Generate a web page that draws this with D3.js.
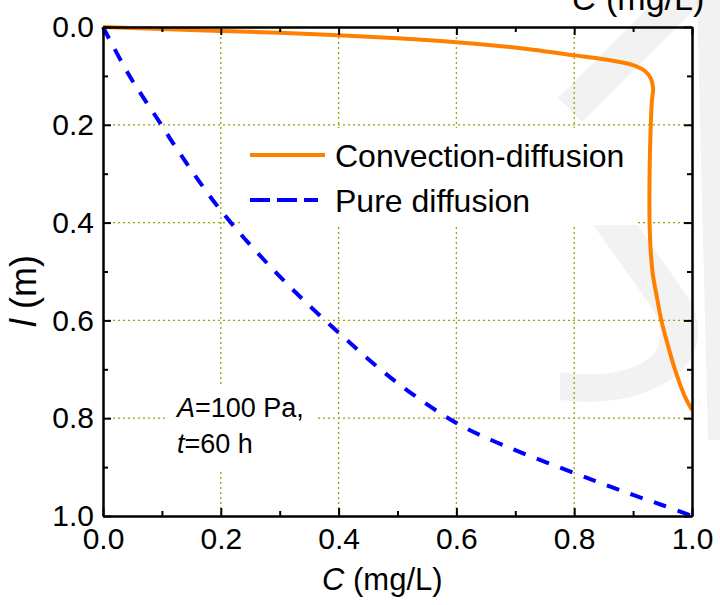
<!DOCTYPE html>
<html>
<head>
<meta charset="utf-8">
<script src="https://cdn.jsdelivr.net/npm/d3@7"></script>
<style>
html,body{margin:0;padding:0;background:#fff;}
svg{display:block;font-family:"Liberation Sans",Arial,sans-serif;}
</style>
</head>
<body>
<svg id="chart" width="720" height="605"></svg>
<script>
// ---- data ----
const majorTicks = [0, 0.2, 0.4, 0.6, 0.8, 1.0];
const minorTicks = [0.1, 0.3, 0.5, 0.7, 0.9];
const gridTicks = [0.2, 0.4, 0.6, 0.8];
const seriesNames = ["Convection-diffusion", "Pure diffusion"];
// [C (mg/L), l (m)]
const convC = [0, 0.1, 0.2, 0.3, 0.4, 0.5, 0.6, 0.7, 0.8, 0.85, 0.9, 0.92, 0.93, 0.934, 0.932, 0.930, 0.928, 0.928, 0.930, 0.934, 0.940, 0.948, 0.960, 0.971, 0.988, 1.0];
const convL = [0, 0.004, 0.008, 0.012, 0.017, 0.023, 0.031, 0.042, 0.058, 0.066, 0.078, 0.09, 0.105, 0.125, 0.15, 0.2, 0.3, 0.4, 0.46, 0.51, 0.55, 0.6, 0.655, 0.70, 0.756, 0.783];
const pureC = [0, 0.026, 0.049, 0.071, 0.098, 0.123, 0.2, 0.3, 0.4, 0.5, 0.6, 0.66, 0.72, 0.8, 0.85, 0.9, 0.95, 1.0];
const pureL = [0, 0.059, 0.108, 0.149, 0.198, 0.245, 0.375, 0.51, 0.625, 0.728, 0.81, 0.845, 0.875, 0.912, 0.935, 0.957, 0.978, 1.0];

const svg = d3.select("#chart");
const x = d3.scaleLinear().domain([0, 1]).range([103, 692]);
const y = d3.scaleLinear().domain([0, 1]).range([27, 516]);

// watermark (faint)
const wm = svg.append("g").attr("fill", "#000").attr("fill-opacity", 0.05).attr("stroke", "none");
wm.append("path").attr("d", "M558,98 L582,122 L712,-8 L688,-32 Z");
wm.append("path").attr("d", "M540,150 L585,150 L690,300 C705,330 700,360 670,380 C640,400 600,405 560,400 L560,372 C600,378 640,372 655,352 C665,335 660,320 650,305 Z");
wm.append("path").attr("d", "M697,0 L720,0 L720,440 L708,440 Z");

// grid
const grid = svg.append("g").attr("stroke", "#a0a000").attr("stroke-width", 1.3).attr("stroke-dasharray", "2,3");
grid.selectAll(".gv").data(gridTicks).join("line")
  .attr("x1", d => x(d)).attr("x2", d => x(d)).attr("y1", y(0)).attr("y2", y(1));
grid.selectAll(".gh").data(gridTicks).join("line")
  .attr("y1", d => y(d)).attr("y2", d => y(d)).attr("x1", x(0)).attr("x2", x(1));

// white boxes behind legend and annotation
svg.append("rect").attr("x", 240).attr("y", 128).attr("width", 398).attr("height", 97).attr("fill", "#fff");
svg.append("rect").attr("x", 167).attr("y", 385).attr("width", 150).attr("height", 86).attr("fill", "#fff");

// curves
const line = d3.line().x(d => x(d[0])).y(d => y(d[1])).curve(d3.curveCatmullRom.alpha(0.5));
const convData = convC.map((c, i) => [c, convL[i]]);
const pureData = pureC.map((c, i) => [c, pureL[i]]);
svg.append("path").datum(pureData).attr("d", line)
  .attr("fill", "none").attr("stroke", "#0000ff").attr("stroke-width", 4).attr("stroke-dasharray", "13,12");
svg.append("path").datum(convData).attr("d", line)
  .attr("fill", "none").attr("stroke", "#ff8000").attr("stroke-width", 4);

// axes
function styleAxis(g) {
  g.select(".domain").attr("stroke", "#000").attr("stroke-width", 2);
  g.selectAll(".tick line").attr("stroke", "#000").attr("stroke-width", 2);
  g.selectAll(".tick text").attr("fill", "#000").style("font-size", "30px").style("font-family", "'Liberation Sans', Arial, sans-serif");
}
const fmt = d3.format(".1f");
svg.append("g").attr("transform", `translate(0,${y(1)})`)
  .call(d3.axisBottom(x).tickValues(majorTicks).tickFormat(fmt).tickSizeInner(-8).tickSizeOuter(0).tickPadding(12))
  .call(styleAxis);
svg.append("g").attr("transform", `translate(0,${y(1)})`)
  .call(d3.axisBottom(x).tickValues(minorTicks).tickFormat("").tickSizeInner(-5).tickSizeOuter(0))
  .call(styleAxis);
svg.append("g").attr("transform", `translate(0,${y(0)})`)
  .call(d3.axisTop(x).tickValues(majorTicks).tickFormat("").tickSizeInner(-8).tickSizeOuter(0))
  .call(styleAxis);
svg.append("g").attr("transform", `translate(0,${y(0)})`)
  .call(d3.axisTop(x).tickValues(minorTicks).tickFormat("").tickSizeInner(-5).tickSizeOuter(0))
  .call(styleAxis);
svg.append("g").attr("transform", `translate(${x(0)},0)`)
  .call(d3.axisLeft(y).tickValues(majorTicks).tickFormat(fmt).tickSizeInner(-8).tickSizeOuter(0).tickPadding(9))
  .call(styleAxis);
svg.append("g").attr("transform", `translate(${x(0)},0)`)
  .call(d3.axisLeft(y).tickValues(minorTicks).tickFormat("").tickSizeInner(-5).tickSizeOuter(0))
  .call(styleAxis);
svg.append("g").attr("transform", `translate(${x(1)},0)`)
  .call(d3.axisRight(y).tickValues(majorTicks).tickFormat("").tickSizeInner(-8).tickSizeOuter(0))
  .call(styleAxis);
svg.append("g").attr("transform", `translate(${x(1)},0)`)
  .call(d3.axisRight(y).tickValues(minorTicks).tickFormat("").tickSizeInner(-5).tickSizeOuter(0))
  .call(styleAxis);

// axis titles
const xt = svg.append("text").attr("x", 322).attr("y", 590).attr("font-size", 31).attr("fill", "#000");
xt.append("tspan").attr("font-style", "italic").text("C");
xt.append("tspan").text(" (mg/L)");
const tt = svg.append("text").attr("x", 572).attr("y", 10).attr("font-size", 34).attr("fill", "#000");
tt.append("tspan").attr("font-style", "italic").text("C");
tt.append("tspan").text(" (mg/L)");
const yt = svg.append("text").attr("transform", "translate(36,327) rotate(-90)").attr("font-size", 36).attr("fill", "#000");
yt.append("tspan").attr("font-style", "italic").text("l");
yt.append("tspan").text(" (m)");

// legend
const lg = svg.append("g");
lg.append("line").attr("x1", 250).attr("x2", 325).attr("y1", 155).attr("y2", 155)
  .attr("stroke", "#ff8000").attr("stroke-width", 4);
lg.append("text").attr("x", 335).attr("y", 167).attr("font-size", 32).attr("fill", "#000").text(seriesNames[0]);
lg.append("line").attr("x1", 250).attr("x2", 318).attr("y1", 200).attr("y2", 200)
  .attr("stroke", "#0000ff").attr("stroke-width", 4).attr("stroke-dasharray", "20,7");
lg.append("text").attr("x", 335).attr("y", 212).attr("font-size", 32).attr("fill", "#000").text(seriesNames[1]);

// annotation
const a1 = svg.append("text").attr("x", 177).attr("y", 417).attr("font-size", 27).attr("fill", "#000");
a1.append("tspan").attr("font-style", "italic").text("A");
a1.append("tspan").text("=100 Pa,");
const a2 = svg.append("text").attr("x", 177).attr("y", 453).attr("font-size", 27).attr("fill", "#000");
a2.append("tspan").attr("font-style", "italic").text("t");
a2.append("tspan").text("=60 h");
</script>
</body>
</html>
